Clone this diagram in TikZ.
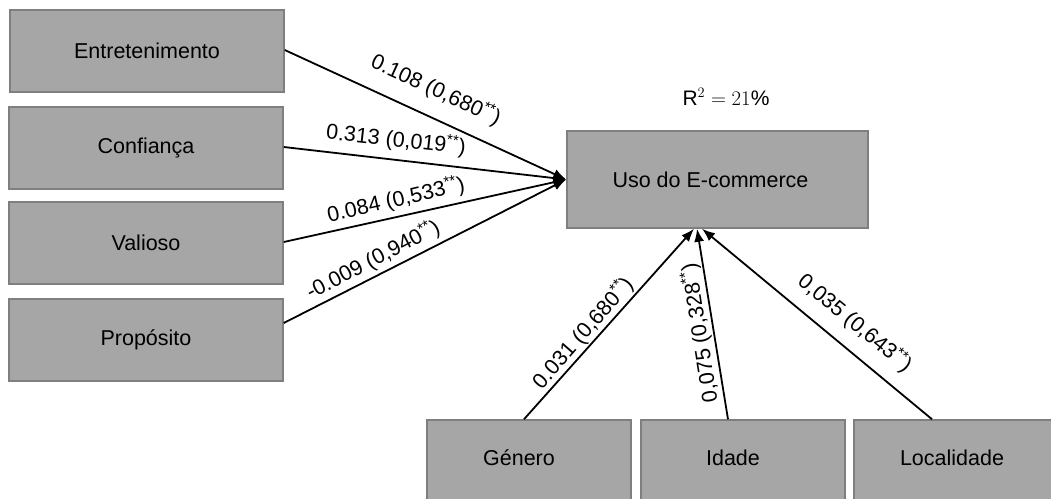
\documentclass[tikz,border=0pt]{standalone}
\usepackage{fontspec}
\setmainfont{Liberation Sans}
\usetikzlibrary{arrows.meta}
\definecolor{boxfill}{HTML}{A6A6A6}
\definecolor{boxline}{HTML}{7F7F7F}
\begin{document}
\begin{tikzpicture}[x=1pt,y=-1pt,
  box/.style={draw=boxline, line width=1.5pt, fill=boxfill, minimum width=274pt, minimum height=82pt, inner sep=0pt, font=\fontsize{21.5}{25}\selectfont},
  conn/.style={line width=1.8pt, -{Latex[length=13pt,width=10pt]}},
  lbl/.style={font=\fontsize{21.5}{25}\selectfont, inner sep=0pt}]
\useasboundingbox (0,0) rectangle (1051,498);
\node[box] (ent) at (147,51) {Entretenimento};
\node[box] (conf) at (146,148) {Confiança};
\node[box] (val) at (146,243) {Valioso};
\node[box] (prop) at (146,340) {Propósito};
\node[box, minimum width=301pt, minimum height=97pt] (uso) at (717.5,179.5) {\hspace*{-14pt}\raisebox{-2pt}{Uso do E-commerce}};
\node[box, minimum width=204pt] (gen) at (529,461) {\hspace*{-20pt}\raisebox{6pt}{Género}};
\node[box, minimum width=204pt] (ida) at (743,461) {\hspace*{-20pt}\raisebox{6pt}{Idade}};
\node[box, minimum width=204pt] (loc) at (956,461) {\hspace*{-8pt}\raisebox{6pt}{Localidade}};
\draw[conn] ([yshift=1pt]ent.east) -- (uso.west);
\draw[conn] ([yshift=1pt]conf.east) -- (uso.west);
\draw[conn] ([yshift=1pt]val.east) -- (uso.west);
\draw[conn] ([yshift=17pt]prop.east) -- (uso.west);
\draw[conn] ([xshift=-5pt]gen.north) -- ([xshift=-23.5pt]uso.south);
\draw[conn] ([xshift=-15pt]ida.north) -- ([xshift=-20.5pt]uso.south);
\draw[conn] ([xshift=-24pt]loc.north) -- ([xshift=-15.5pt]uso.south);
\node[lbl, rotate=-24.6] (l1) at (436,90) {0.108 (0,680\textsuperscript{**})};
\node[lbl, rotate=-6.3] (l2) at (396,140) {0.313 (0,019\textsuperscript{**})};
\node[lbl, rotate=12.9] (l3) at (396,200) {0.084 (0,533\textsuperscript{**})};
\node[lbl, rotate=27.5] (l4) at (373,260) {-0.009 (0,940\textsuperscript{**})};
\node[lbl, rotate=48.8] (l5) at (583,333) {0.031 (0,680\textsuperscript{**})};
\node[lbl, rotate=99] (l6) at (700,333) {0,075 (0,328\textsuperscript{**})};
\node[lbl, rotate=-39.5] (l7) at (855,323) {0,035 (0,643\textsuperscript{**})};
\node[font=\fontsize{21}{25}\selectfont, inner sep=0pt] (r2) at (726,97) {$\mathrm{R}^2 = 21\%$};
\end{tikzpicture}
\end{document}
